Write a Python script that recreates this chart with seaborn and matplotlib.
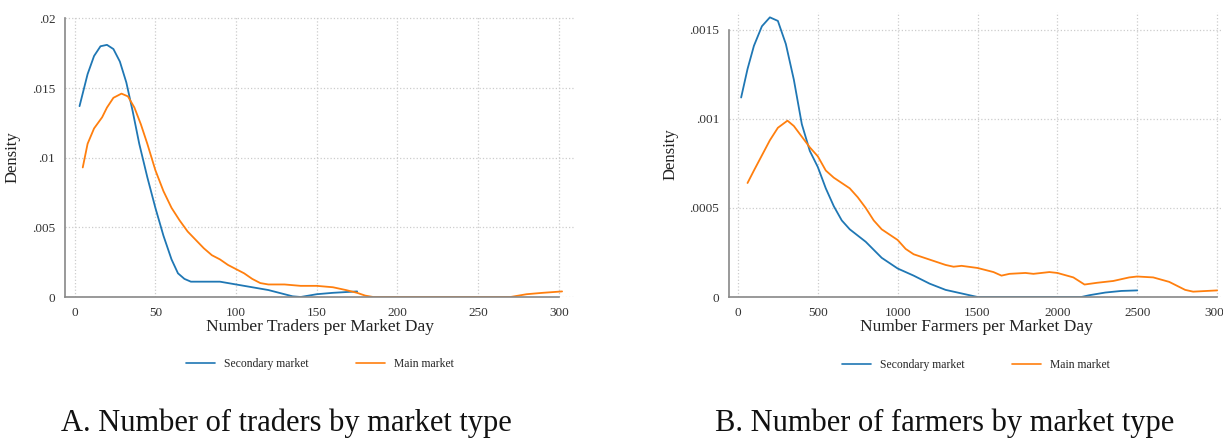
import numpy as np
import pandas as pd
import matplotlib
matplotlib.use("Agg")
import matplotlib.pyplot as plt
import seaborn as sns

# panel A: traders per market day (density)
traders_sec_x = [3, 8, 12, 16, 20, 24, 28, 32, 36, 40, 45, 50, 55, 60, 64, 68, 72, 80, 90,
                 100, 110, 120, 130, 135, 140, 150, 160, 175]
traders_sec_y = [0.0137, 0.0160, 0.0173, 0.0180, 0.0181, 0.0178, 0.0169, 0.0154, 0.0133, 0.0110,
                 0.0086, 0.0064, 0.0044, 0.0027, 0.0017, 0.0013, 0.0011, 0.0011, 0.0011,
                 0.0009, 0.0007, 0.0005, 0.0002, 0.00005, 0.0, 0.0002, 0.0003, 0.0004]
traders_main_x = [5, 8, 12, 17, 20, 24, 29, 33, 37, 41, 45, 50, 55, 60, 65, 70, 75, 80, 85, 90,
                  95, 100, 105, 110, 115, 120, 130, 140, 150, 160, 168, 175, 180, 185, 200,
                  250, 270, 280, 290, 302]
traders_main_y = [0.0093, 0.0110, 0.0121, 0.0129, 0.0136, 0.0143, 0.0146, 0.0144, 0.0136, 0.0124,
                  0.0110, 0.0091, 0.0076, 0.0064, 0.0055, 0.0047, 0.0041, 0.0035, 0.0030, 0.0027,
                  0.0023, 0.0020, 0.0017, 0.0013, 0.0010, 0.0009, 0.0009, 0.0008, 0.0008, 0.0007,
                  0.0005, 0.0003, 0.0001, 0.0, 0.0, 0.0, 0.0, 0.0002, 0.0003, 0.0004]

# panel B: farmers per market day
farmers_sec_x = [20, 60, 100, 150, 200, 250, 300, 350, 400, 450, 500, 550, 600, 650, 700, 800,
                 900, 1000, 1100, 1200, 1300, 1400, 1500, 1700, 1900, 2150, 2200, 2300, 2400, 2500]
farmers_sec_y = [0.00112, 0.00128, 0.00141, 0.00152, 0.00157, 0.00155, 0.00142, 0.00122, 0.00097,
                 0.00082, 0.00073, 0.00061, 0.00051, 0.00043, 0.00038, 0.00031, 0.00022, 0.00016,
                 0.00012, 0.000075, 0.00004, 0.00002, 0.0, 0.0, 0.0, 0.0, 0.00001, 0.000025,
                 0.000034, 0.000037]
farmers_main_x = [60, 100, 200, 250, 310, 350, 400, 450, 500, 550, 600, 650, 700, 750, 800, 850,
                  900, 950, 1000, 1050, 1100, 1200, 1300, 1350, 1400, 1500, 1600, 1650, 1700,
                  1800, 1850, 1950, 2000, 2100, 2170, 2250, 2350, 2450, 2500, 2600, 2700, 2800,
                  2850, 3000]
farmers_main_y = [0.00064, 0.00071, 0.00088, 0.00095, 0.00099, 0.00096, 0.00090, 0.00084, 0.00079,
                  0.00071, 0.00067, 0.00064, 0.00061, 0.00056, 0.00050, 0.00043, 0.00038, 0.00035,
                  0.00032, 0.00027, 0.00024, 0.00021, 0.00018, 0.00017, 0.000175, 0.000163,
                  0.00014, 0.00012, 0.00013, 0.000135, 0.00013, 0.00014, 0.000135, 0.00011,
                  0.00007, 0.00008, 0.00009, 0.00011, 0.000115, 0.00011, 0.000085, 0.00004,
                  0.00003, 0.000037]

labels = ["Secondary market", "Main market"]
colors = ["#1f77b4", "#ff7f0e"]

sns.set_style("white")
plt.rcParams['font.family'] = ['Liberation Serif', 'DejaVu Serif']

fig = plt.figure(figsize=(12.23, 4.38), dpi=100)
ax1 = fig.add_axes([65 / 1223, 141 / 438, 510 / 1223, 280 / 438])
ax2 = fig.add_axes([729 / 1223, 141 / 438, 494 / 1223, 285 / 438])

def draw(ax, sec_x, sec_y, main_x, main_y, xticks, yticks, yticklabels, xlabel, xlim, ylim):
    df = pd.concat([
        pd.DataFrame({"x": sec_x, "y": sec_y, "market": labels[0]}),
        pd.DataFrame({"x": main_x, "y": main_y, "market": labels[1]}),
    ])
    sns.lineplot(data=df, x="x", y="y", hue="market", palette=colors, ax=ax,
                 linewidth=1.3, sort=False, estimator=None)
    ax.set_xlim(*xlim)
    ax.set_ylim(*ylim)
    ax.set_xticks(xticks)
    ax.set_xticklabels([str(t) for t in xticks], fontsize=9.5)
    ax.set_yticks(yticks)
    ax.set_yticklabels(yticklabels, fontsize=9.5)
    ax.grid(True, linestyle=":", color="#cccccc", linewidth=0.9)
    for s in ["top", "right"]:
        ax.spines[s].set_visible(False)
    for s in ["left", "bottom"]:
        ax.spines[s].set_color("#888888")
        ax.spines[s].set_linewidth(1.2)
    ax.spines["left"].set_bounds(yticks[0], yticks[-1])
    ax.spines["bottom"].set_bounds(xlim[0], xticks[-1])
    ax.tick_params(axis="both", direction="out", length=4, color="#888888",
                   labelcolor="#333333", pad=3)
    ax.set_xlabel(xlabel, fontsize=12.5, color="#222222", labelpad=0)
    ax.set_ylabel("Density", fontsize=12, color="#222222", labelpad=8)
    leg = ax.legend(loc="upper center", bbox_to_anchor=(0.5, -0.18), ncol=2, frameon=False,
                    fontsize=8.4, handlelength=2.5, columnspacing=4, handletextpad=0.8)
    for line in leg.get_lines():
        line.set_linewidth(1.2)

draw(ax1, traders_sec_x, traders_sec_y, traders_main_x, traders_main_y,
     [0, 50, 100, 150, 200, 250, 300], [0, 0.005, 0.01, 0.015, 0.02],
     ["0", ".005", ".01", ".015", ".02"], "Number Traders per Market Day",
     (-6, 310), (0, 0.0201))
draw(ax2, farmers_sec_x, farmers_sec_y, farmers_main_x, farmers_main_y,
     [0, 500, 1000, 1500, 2000, 2500, 3000], [0, 0.0005, 0.001, 0.0015],
     ["0", ".0005", ".001", ".0015"], "Number Farmers per Market Day",
     (-56, 3037), (0, 0.0016))

fig.text(0.234, 0.015, "A. Number of traders by market type", ha="center", fontsize=22,
         color="#111111")
fig.text(0.772, 0.015, "B. Number of farmers by market type", ha="center", fontsize=22,
         color="#111111")

fig.savefig("out.png", dpi=100)
